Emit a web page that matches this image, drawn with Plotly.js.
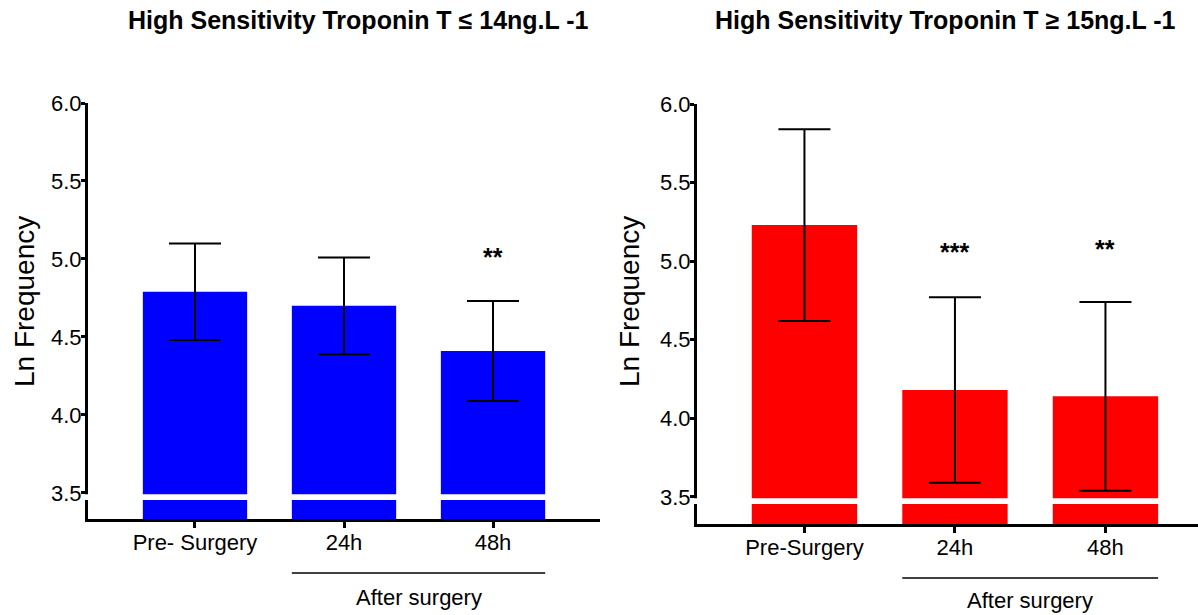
<!DOCTYPE html>
<html>
<head>
<meta charset="utf-8">
<script src="https://cdn.plot.ly/plotly-3.0.1.min.js"></script>
<style>html,body{margin:0;padding:0;background:#fff;}#chart{width:1198px;height:615px;}</style>
</head>
<body>
<div id="chart"></div>
<script>
// ---- data ----
const catsLeft = ["Pre- Surgery", "24h", "48h"];
const catsRight = ["Pre-Surgery", "24h", "48h"];
const meanLow = [4.79, 4.70, 4.41];
const errLow = [0.31, 0.31, 0.32];
const meanHigh = [5.23, 4.18, 4.14];
const errHigh = [0.61, 0.59, 0.60];
const sigLow = ["", "", "**"];
const sigHigh = ["", "***", "**"];
const sigLowY = [null, null, 5.01];
const sigHighY = [null, 5.06, 5.075];
const yTickVals = [3.5, 4.0, 4.5, 5.0, 5.5, 6.0];
const yTickText = ["3.5", "4.0", "4.5", "5.0", "5.5", "6.0"];
const titleLeft = "High Sensitivity Troponin T \u2264 14ng.L -1";
const titleRight = "High Sensitivity Troponin T \u2265 15ng.L -1";
const yLabel = "Ln Frequency";
const groupLabel = "After surgery";

// ---- layout helpers ----
const W = 1198, H = 615;
const px = v => v / W;
const py = v => 1 - v / H;
const sans = "Liberation Sans, Arial, sans-serif";

const traces = [
  {
    type: "bar", x: catsLeft, y: meanLow, xaxis: "x", yaxis: "y",
    width: 0.7, marker: {color: "#0000ff", line: {width: 0}},
    error_y: {type: "data", array: errLow, symmetric: true, color: "#000", thickness: 2, width: 26},
    hoverinfo: "x+y", showlegend: false
  },
  {
    type: "bar", x: catsRight, y: meanHigh, xaxis: "x2", yaxis: "y2",
    width: 0.7, marker: {color: "#ff0000", line: {width: 0}},
    error_y: {type: "data", array: errHigh, symmetric: true, color: "#000", thickness: 2, width: 26},
    hoverinfo: "x+y", showlegend: false
  }
];

const axCommonX = {
  type: "category", showline: true, linecolor: "#000", linewidth: 3,
  ticks: "outside", ticklen: 6, tickwidth: 3, tickcolor: "#000",
  showgrid: false, zeroline: false, fixedrange: true,
  ticklabelstandoff: -4,
  tickfont: {family: sans, size: 22, color: "#000"}
};
const axCommonY = {
  showline: true, linecolor: "#000", linewidth: 3,
  ticks: "outside", ticklen: 4, tickwidth: 3, tickcolor: "#000",
  showgrid: false, zeroline: false, fixedrange: true,
  ticklabelstandoff: -5,
  tickvals: yTickVals, ticktext: yTickText,
  tickfont: {family: sans, size: 22, color: "#000"}
};

const annotations = [
  {text: "<b>" + titleLeft + "</b>", xref: "paper", yref: "paper", x: px(358), y: py(20), showarrow: false,
   font: {family: sans, size: 25, color: "#000"}, xanchor: "center", yanchor: "middle"},
  {text: "<b>" + titleRight + "</b>", xref: "paper", yref: "paper", x: px(945), y: py(20), showarrow: false,
   font: {family: sans, size: 25, color: "#000"}, xanchor: "center", yanchor: "middle"},
  {text: yLabel, xref: "paper", yref: "paper", x: px(25), y: py(302), showarrow: false, textangle: -90,
   font: {family: sans, size: 28, color: "#000"}, xanchor: "center", yanchor: "middle"},
  {text: yLabel, xref: "paper", yref: "paper", x: px(630), y: py(302), showarrow: false, textangle: -90,
   font: {family: sans, size: 28, color: "#000"}, xanchor: "center", yanchor: "middle"},
  {text: groupLabel, xref: "x", yref: "paper", x: 1.5, y: py(597), showarrow: false,
   font: {family: sans, size: 22, color: "#000"}, xanchor: "center", yanchor: "middle"},
  {text: groupLabel, xref: "x2", yref: "paper", x: 1.5, y: py(600), showarrow: false,
   font: {family: sans, size: 22, color: "#000"}, xanchor: "center", yanchor: "middle"}
];
sigLow.forEach((s, i) => {
  if (s) annotations.push({text: "<b>" + s + "</b>", xref: "x", yref: "y", x: i, y: sigLowY[i], showarrow: false,
    font: {family: sans, size: 25, color: "#000"}, xanchor: "center", yanchor: "middle"});
});
sigHigh.forEach((s, i) => {
  if (s) annotations.push({text: "<b>" + s + "</b>", xref: "x2", yref: "y2", x: i, y: sigHighY[i], showarrow: false,
    font: {family: sans, size: 25, color: "#000"}, xanchor: "center", yanchor: "middle"});
});

const shapes = [
  // axis-break gaps
  {type: "rect", xref: "paper", yref: "y", x0: px(84), x1: px(600), y0: 3.455, y1: 3.492,
   fillcolor: "#fff", line: {width: 0}, layer: "above"},
  {type: "rect", xref: "paper", yref: "y2", x0: px(693), x1: 1, y0: 3.455, y1: 3.492,
   fillcolor: "#fff", line: {width: 0}, layer: "above"},
  // "After surgery" brackets
  {type: "line", xref: "x", yref: "paper", x0: 0.65, x1: 2.35, y0: py(573), y1: py(573),
   line: {color: "#000", width: 1.5}},
  {type: "line", xref: "x2", yref: "paper", x0: 0.65, x1: 2.35, y0: py(578), y1: py(578),
   line: {color: "#000", width: 1.5}}
];

const layout = {
  width: W, height: H,
  margin: {l: 0, r: 0, t: 0, b: 0, pad: 0},
  paper_bgcolor: "#fff", plot_bgcolor: "rgba(0,0,0,0)",
  showlegend: false,
  xaxis: Object.assign({}, axCommonX, {domain: [px(88), px(600)], range: [-0.718, 2.718], anchor: "y"}),
  yaxis: Object.assign({}, axCommonY, {domain: [py(519), py(103)], range: [3.333, 6.0], anchor: "x"}),
  xaxis2: Object.assign({}, axCommonX, {domain: [px(697), 1], range: [-0.714, 2.615], anchor: "y2"}),
  yaxis2: Object.assign({}, axCommonY, {domain: [py(524), py(104)], range: [3.328, 6.0], anchor: "x2"}),
  annotations: annotations,
  shapes: shapes
};

Plotly.newPlot("chart", traces, layout, {displayModeBar: false, staticPlot: true});
</script>
</body>
</html>
